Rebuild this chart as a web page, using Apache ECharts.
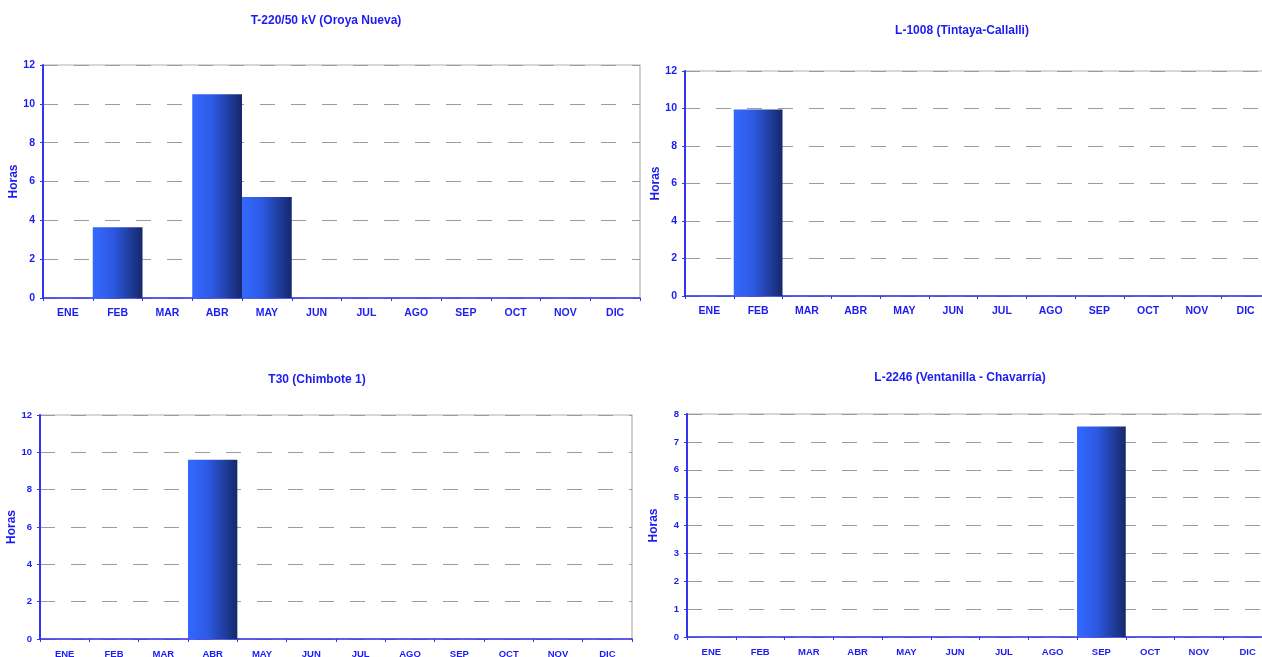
<!DOCTYPE html>
<html>
<head>
<meta charset="utf-8">
<script src="https://cdn.jsdelivr.net/npm/echarts@6/dist/echarts.min.js"></script>
<style>
html,body{margin:0;padding:0;background:#fff;}
#c{width:1262px;height:657px;}
</style>
</head>
<body>
<div id="c"></div>
<script>
const months = ['ENE','FEB','MAR','ABR','MAY','JUN','JUL','AGO','SEP','OCT','NOV','DIC'];
const chartTitles = ['T-220/50 kV (Oroya Nueva)','L-1008 (Tintaya-Callalli)','T30 (Chimbote 1)','L-2246 (Ventanilla - Chavarría)'];
const oroyaNueva = [0, 3.65, 0, 10.5, 5.2, 0, 0, 0, 0, 0, 0, 0];
const tintayaCallalli = [0, 9.95, 0, 0, 0, 0, 0, 0, 0, 0, 0, 0];
const chimbote1 = [0, 0, 0, 9.6, 0, 0, 0, 0, 0, 0, 0, 0];
const ventanillaChavarria = [0, 0, 0, 0, 0, 0, 0, 0, 7.55, 0, 0, 0];
const yMaxes = [12, 12, 12, 8];
const yIntervals = [2, 2, 2, 1];
const yName = 'Horas';

const seriesData = [oroyaNueva, tintayaCallalli, chimbote1, ventanillaChavarria];
const layouts = [
  {left: 43, top: 65, width: 597, height: 233, tx: 326, ty: 15, gap: 20, fs: 10.5},
  {left: 685, top: 71, width: 585, height: 225, tx: 962, ty: 25, gap: 20, fs: 10.5},
  {left: 40, top: 415, width: 592, height: 224, tx: 317, ty: 374, gap: 18, fs: 9.5},
  {left: 687, top: 414, width: 585, height: 223, tx: 960, ty: 372, gap: 27, fs: 9.5}
];
const blueText = '#1c1cf2';
const axisBlue = '#3535f0';
const font = '"Liberation Sans", Arial, sans-serif';

const chart = echarts.init(document.getElementById('c'), null, {renderer: 'canvas'});
const grid = [], xAxis = [], yAxis = [], series = [], title = [];
layouts.forEach((L, i) => {
  title.push({
    text: chartTitles[i], left: L.tx, top: L.ty, textAlign: 'center', padding: 0,
    textStyle: {color: blueText, fontSize: 12, fontWeight: 'bold', fontFamily: font}
  });
  grid.push({left: L.left, top: L.top, width: L.width, height: L.height,
    outerBoundsMode: 'none',
    show: true, borderColor: '#b0b0b0', borderWidth: 1.2, backgroundColor: 'transparent', containLabel: false});
  xAxis.push({
    type: 'category', gridIndex: i, data: months, boundaryGap: true,
    axisLine: {lineStyle: {color: axisBlue, width: 1.5}},
    axisTick: {show: true, alignWithLabel: false, length: 3, lineStyle: {color: axisBlue}},
    axisLabel: {color: blueText, fontSize: L.fs, fontWeight: 'bold', fontFamily: font, margin: 10, interval: 0},
    splitLine: {show: false}
  });
  yAxis.push({
    type: 'value', gridIndex: i, min: 0, max: yMaxes[i], interval: yIntervals[i],
    name: yName, nameLocation: 'middle', nameRotate: 90, nameGap: L.gap,
    nameTextStyle: {color: blueText, fontSize: 12, fontWeight: 'bold', fontFamily: font},
    axisLine: {show: true, lineStyle: {color: axisBlue, width: 2}},
    axisTick: {show: true, length: 3, lineStyle: {color: axisBlue}},
    axisLabel: {color: blueText, fontSize: L.fs, fontWeight: 'bold', fontFamily: font, margin: 8},
    splitLine: {show: true, lineStyle: {color: '#9c9c9c', width: 1.2, type: [15, 16], dashOffset: 0}}
  });
  series.push({
    type: 'bar', xAxisIndex: i, yAxisIndex: i, data: seriesData[i],
    barCategoryGap: 0, barGap: 0, animation: false,
    itemStyle: {color: new echarts.graphic.LinearGradient(0, 0, 1, 0, [
      {offset: 0, color: '#3468ff'},
      {offset: 0.4, color: '#2d5ae4'},
      {offset: 1, color: '#16286a'}
    ])}
  });
});
chart.setOption({animation: false, title, grid, xAxis, yAxis, series});
</script>
</body>
</html>
